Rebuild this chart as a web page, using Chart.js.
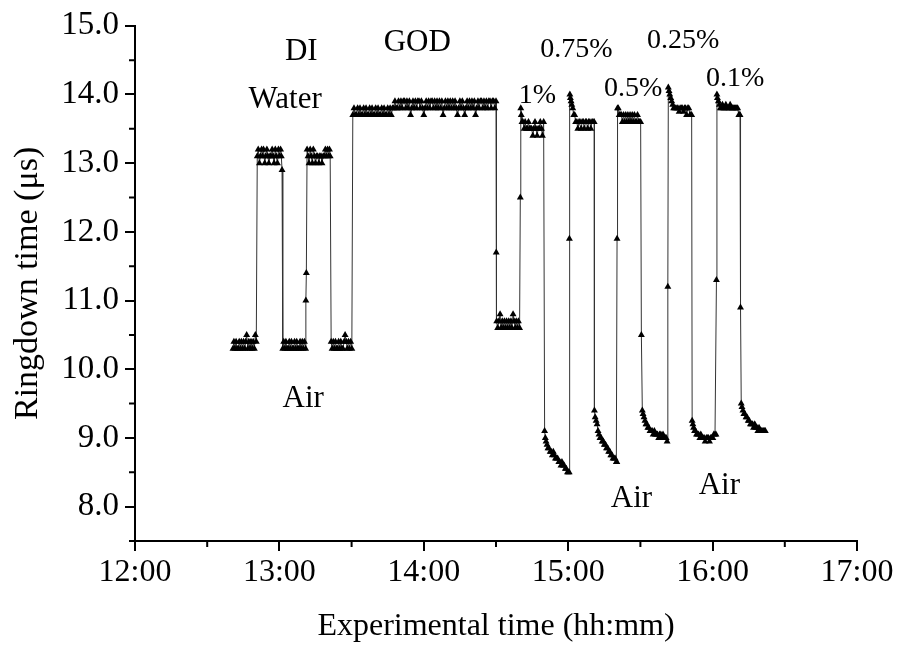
<!DOCTYPE html>
<html>
<head>
<meta charset="utf-8">
<script src="https://cdn.jsdelivr.net/npm/chart.js@4.4.1/dist/chart.umd.min.js"></script>
<style>
  html, body { margin: 0; padding: 0; background: #fff; }
  #wrap { width: 898px; height: 646px; }
</style>
</head>
<body>
<div id="wrap"><canvas id="chart" width="898" height="646"></canvas></div>
<script>
// [minutes after 12:00, ringdown time in µs]
const air1 = [[40.7,10.3],[41.1,10.4],[41.5,10.3],[42.0,10.4],[42.4,10.3],[42.9,10.3],[43.3,10.4],[43.8,10.3],[44.2,10.4],[44.7,10.3],[45.1,10.4],[45.6,10.3],
  [46.0,10.4],[46.4,10.5],[46.9,10.3],[47.3,10.4],[47.8,10.3],[48.2,10.4],[48.7,10.3],[49.1,10.4],[49.6,10.3],[50.0,10.5],[50.4,10.4]];
const water1 = [[50.8,13.1],[51.2,13.2],[51.7,13.0],[52.1,13.1],[52.6,13.2],[53.0,13.1],[53.4,13.2],[53.9,13.0],[54.3,13.1],[54.8,13.2],[55.2,13.1],[55.6,13.0],
  [56.1,13.1],[56.5,13.1],[57.0,13.2],[57.4,13.1],[57.8,13.0],[58.3,13.2],[58.7,13.1],[59.2,13.0],[59.6,13.2],[60.0,13.1],[60.5,13.2],[60.8,13.1],[61.1,12.9]];
const air2 = [[61.4,10.3],[61.8,10.4],[62.3,10.3],[62.7,10.4],[63.2,10.3],[63.6,10.3],[64.1,10.4],[64.5,10.3],[65.0,10.4],[65.4,10.3],[65.9,10.3],
  [66.3,10.4],[66.8,10.3],[67.2,10.4],[67.7,10.3],[68.1,10.3],[68.6,10.4],[69.0,10.3],[69.5,10.4],[69.9,10.3],[70.4,10.4],[70.9,10.3]];
const water2 = [[71.0,11.0],[71.2,11.4],[71.5,13.2],[71.9,13.1],[72.3,13.0],[72.8,13.2],[73.2,13.1],[73.7,13.0],[74.1,13.2],[74.6,13.1],[75.0,13.0],[75.5,13.1],
  [75.9,13.1],[76.4,13.0],[76.8,13.1],[77.3,13.1],[77.7,13.0],[78.2,13.1],[78.6,13.1],[79.1,13.2],[79.5,13.1],[80.0,13.2],[80.4,13.1],[80.8,13.2],[81.1,13.1]];
const air3 = [[81.5,10.4],[81.9,10.3],[82.4,10.4],[82.8,10.3],[83.3,10.4],[83.7,10.3],[84.2,10.3],[84.6,10.4],[85.1,10.3],[85.5,10.4],
  [86.0,10.3],[86.4,10.3],[86.9,10.4],[87.3,10.5],[87.8,10.4],[88.2,10.3],[88.7,10.4],[89.1,10.3],[89.6,10.4],[90.1,10.3]];
const god = [[90.5,13.7],[91.0,13.8],[91.5,13.7],[92.0,13.7],[92.5,13.8],[93.0,13.7],[93.5,13.8],[94.0,13.7],[94.5,13.7],[95.0,13.8],
  [95.5,13.7],[96.0,13.8],[96.5,13.7],[97.0,13.7],[97.5,13.8],[98.0,13.7],[98.5,13.8],[99.0,13.7],[99.5,13.7],[100.0,13.8],
  [100.5,13.7],[101.0,13.8],[101.5,13.7],[102.0,13.7],[102.5,13.8],[103.0,13.7],[103.5,13.8],[104.0,13.7],[104.5,13.7],[105.0,13.8],
  [105.5,13.7],[106.0,13.8],[106.5,13.7],[107.0,13.8],[107.5,13.8],[108.0,13.9],[108.5,13.8],[109.0,13.8],[109.5,13.9],[110.0,13.8],
  [110.5,13.9],[111.0,13.8],[111.5,13.9],[112.0,13.9],[112.5,13.8],[113.0,13.9],[113.5,13.8],[114.0,13.9],[114.5,13.7],[115.0,13.8],
  [115.5,13.9],[116.0,13.8],[116.5,13.9],[117.0,13.8],[117.5,13.9],[118.0,13.9],[118.5,13.8],[119.0,13.9],[119.5,13.8],[120.0,13.7],
  [120.5,13.8],[121.0,13.9],[121.5,13.8],[122.0,13.9],[122.5,13.8],[123.0,13.9],[123.5,13.9],[124.0,13.8],[124.5,13.9],[125.0,13.8],
  [125.5,13.9],[126.0,13.8],[126.5,13.9],[127.0,13.8],[127.5,13.9],[128.0,13.7],[128.5,13.8],[129.0,13.9],[129.5,13.8],[130.0,13.9],
  [130.5,13.8],[131.0,13.9],[131.5,13.8],[132.0,13.9],[132.5,13.8],[133.0,13.9],[133.5,13.8],[134.0,13.7],[134.5,13.8],[135.0,13.9],
  [135.5,13.8],[136.0,13.9],[136.5,13.8],[137.0,13.7],[137.5,13.8],[138.0,13.9],[138.5,13.8],[139.0,13.9],[139.5,13.8],[140.0,13.9],
  [140.5,13.8],[141.0,13.9],[141.5,13.7],[142.0,13.8],[142.5,13.9],[143.0,13.8],[143.5,13.9],[144.0,13.9],[144.5,13.8],[145.0,13.9],
  [145.5,13.8],[146.0,13.9],[146.5,13.8],[147.0,13.9],[147.5,13.9],[148.0,13.8],[148.5,13.9],[149.0,13.9],[149.5,13.8],[150.0,13.9]];
const buffer = [[150.1,11.7],[150.3,10.7],[150.7,10.6],[151.2,10.7],[151.7,10.8],[152.1,10.6],[152.6,10.7],[153.0,10.6],[153.5,10.7],[153.9,10.6],[154.4,10.7],
  [154.8,10.6],[155.3,10.7],[155.7,10.6],[156.2,10.7],[156.6,10.6],[157.1,10.8],[157.5,10.7],[158.0,10.6],[158.4,10.7],[158.9,10.6],[159.3,10.7],[159.8,10.6]];
const gly1 = [[160.1,12.5],[160.3,13.8],[160.5,13.7],[160.8,13.6],[161.2,13.6],[161.7,13.5],[162.1,13.6],[162.6,13.5],[163.0,13.5],[163.5,13.6],[163.9,13.5],
  [164.4,13.5],[164.8,13.5],[165.3,13.4],[165.7,13.5],[166.2,13.6],[166.6,13.5],[167.1,13.4],[167.5,13.5],[168.0,13.5],[168.4,13.6],[168.9,13.5],[169.3,13.4],[169.8,13.6]];
const air4 = [[170.2,9.1],[170.5,9.0],[170.8,8.95],[171.2,8.9],[171.6,8.85],[172.0,8.85],[172.5,8.8],[172.9,8.8],[173.4,8.75],[173.8,8.8],[174.3,8.75],[174.7,8.7],
  [175.2,8.7],[175.6,8.7],[176.1,8.65],[176.5,8.65],[177.0,8.6],[177.4,8.65],[177.9,8.6],[178.3,8.6],[178.8,8.55],[179.2,8.55],[179.7,8.5],[180.1,8.5],[180.4,8.5]];
const gly075 = [[180.5,11.9],[180.7,14.0],[180.9,13.95],[181.2,13.9],[181.5,13.85],[181.9,13.8],[182.3,13.7],[182.7,13.7],[183.1,13.6],[183.6,13.6],[184.0,13.5],
  [184.5,13.6],[184.9,13.6],[185.4,13.5],[185.8,13.6],[186.3,13.6],[186.7,13.5],[187.2,13.6],[187.6,13.6],[188.1,13.5],[188.5,13.6],[189.0,13.6],[189.4,13.5],
  [189.9,13.6],[190.3,13.6],[190.8,13.6]];
const air5 = [[190.9,9.4],[191.2,9.3],[191.6,9.25],[192.0,9.2],[192.4,9.1],[192.8,9.05],[193.2,9.0],[193.7,9.0],[194.1,8.95],[194.6,8.95],[195.0,8.9],[195.5,8.9],
  [195.9,8.85],[196.4,8.85],[196.8,8.8],[197.3,8.8],[197.7,8.75],[198.2,8.75],[198.6,8.7],[199.1,8.7],[199.5,8.7],[200.0,8.65],[200.2,8.65]];
const gly05 = [[200.3,11.9],[200.5,13.8],[200.8,13.8],[201.2,13.7],[201.6,13.7],[202.1,13.7],[202.5,13.6],[203.0,13.7],[203.4,13.6],[203.9,13.7],[204.3,13.6],
  [204.8,13.7],[205.2,13.6],[205.7,13.7],[206.1,13.6],[206.6,13.7],[207.0,13.6],[207.5,13.7],[207.9,13.6],[208.4,13.6],[208.8,13.7],[209.3,13.6],[209.7,13.6],[210.1,13.6]];
const air6 = [[210.4,10.5],[210.8,9.4],[211.1,9.35],[211.5,9.3],[211.9,9.25],[212.3,9.2],[212.7,9.2],[213.1,9.15],[213.5,9.15],[214.0,9.1],[214.4,9.1],[214.9,9.1],
  [215.3,9.05],[215.8,9.1],[216.2,9.05],[216.7,9.05],[217.1,9.05],[217.6,9.0],[218.0,9.05],[218.5,9.05],[218.9,9.0],[219.4,9.05],[219.8,9.0],[220.3,9.0],[220.7,9.0],[221.1,8.95]];
const gly025 = [[221.4,11.2],[221.6,14.1],[221.9,14.05],[222.2,14.0],[222.6,13.95],[223.0,13.9],[223.4,13.85],[223.8,13.8],[224.3,13.8],[224.7,13.8],[225.2,13.8],
  [225.6,13.8],[226.1,13.75],[226.5,13.8],[227.0,13.8],[227.4,13.8],[227.9,13.75],[228.3,13.8],[228.8,13.8],[229.2,13.7],[229.7,13.8],[230.1,13.8],[230.6,13.7],[231.0,13.7],[231.3,13.7]];
const air7 = [[231.5,9.25],[231.8,9.2],[232.1,9.15],[232.5,9.1],[232.9,9.1],[233.3,9.05],[233.8,9.05],[234.2,9.05],[234.7,9.0],[235.1,9.05],[235.6,9.0],[236.0,9.0],
  [236.5,9.0],[236.9,8.95],[237.4,9.0],[237.8,9.0],[238.3,9.0],[238.7,8.95],[239.2,9.0],[239.6,9.0],[240.1,9.0],[240.5,9.05],[241.0,9.05],[241.4,9.05]];
const gly01 = [[241.6,11.3],[241.8,14.0],[242.0,13.95],[242.4,13.9],[242.8,13.85],[243.2,13.8],[243.7,13.8],[244.1,13.85],[244.6,13.8],[245.0,13.8],[245.5,13.85],
  [245.9,13.8],[246.4,13.8],[246.8,13.8],[247.3,13.85],[247.7,13.8],[248.2,13.8],[248.6,13.8],[249.1,13.8],[249.5,13.8],[250.0,13.8],[250.4,13.8],[250.9,13.7],[251.2,13.7],[251.4,13.7]];
const air8 = [[251.6,10.9],[251.9,9.5],[252.2,9.45],[252.6,9.4],[253.0,9.35],[253.4,9.35],[253.9,9.3],[254.3,9.3],[254.8,9.25],[255.2,9.25],[255.7,9.2],[256.1,9.2],
  [256.6,9.2],[257.0,9.15],[257.5,9.2],[257.9,9.15],[258.4,9.15],[258.8,9.1],[259.3,9.15],[259.7,9.1],[260.2,9.1],[260.6,9.1],[261.1,9.1],[261.5,9.1],[261.9,9.1]];

const xTicks = [0, 60, 120, 180, 240, 300];
const xTickLabels = ["12:00", "13:00", "14:00", "15:00", "16:00", "17:00"];
const xMinor = [30, 90, 150, 210, 270];
const yTicks = [8, 9, 10, 11, 12, 13, 14, 15];
const yTickLabels = ["8.0", "9.0", "10.0", "11.0", "12.0", "13.0", "14.0", "15.0"];
const yMinor = [7.5, 8.5, 9.5, 10.5, 11.5, 12.5, 13.5, 14.5];

const noteText = ["DI", "Water", "GOD", "Air", "1%", "0.75%", "0.5%", "0.25%", "0.1%", "Air", "Air"];
const noteAt = [[69.1, 14.62], [62.4, 13.92], [117.3, 14.75], [69.9, 9.57], [167.2, 13.99], [183.4, 14.65],
  [207.0, 14.08], [227.8, 14.78], [249.4, 14.23], [206.3, 8.12], [242.8, 8.3]];

const trace = [].concat(air1, water1, air2, water2, air3, god, buffer, gly1, air4, gly075,
  air5, gly05, air6, gly025, air7, gly01, air8);

const serif = "'Liberation Serif', 'Times New Roman', serif";

const minorTicks = {
  id: "minorTicks",
  afterDraw(chart) {
    const { ctx, chartArea: a, scales: { x, y } } = chart;
    ctx.save();
    ctx.strokeStyle = "#000";
    ctx.lineWidth = 2;
    ctx.beginPath();
    xMinor.forEach(v => {
      const px = x.getPixelForValue(v);
      ctx.moveTo(px, a.bottom);
      ctx.lineTo(px, a.bottom + 6);
    });
    yMinor.forEach(v => {
      const py = y.getPixelForValue(v);
      ctx.moveTo(a.left, py);
      ctx.lineTo(a.left - 6, py);
    });
    ctx.stroke();
    ctx.restore();
  }
};

const notes = {
  id: "notes",
  afterDatasetsDraw(chart) {
    const { ctx, scales: { x, y } } = chart;
    ctx.save();
    ctx.fillStyle = "#000";
    ctx.textAlign = "center";
    ctx.textBaseline = "middle";
    noteText.forEach((t, i) => {
      const size = t.includes("%") ? 28 : 31;
      ctx.font = size + "px " + serif;
      ctx.fillText(t, x.getPixelForValue(noteAt[i][0]), y.getPixelForValue(noteAt[i][1]));
    });
    ctx.restore();
  }
};

const ctx = document.getElementById("chart").getContext("2d");

new Chart(ctx, {
  type: "scatter",
  data: {
    datasets: [{
      data: trace.map(p => ({ x: p[0], y: p[1] })),
      showLine: true,
      borderColor: "#333",
      borderWidth: 1,
      pointStyle: "triangle",
      pointRadius: 4,
      pointBackgroundColor: "#000",
      pointBorderWidth: 0
    }]
  },
  options: {
    responsive: false,
    animation: false,
    layout: { padding: { top: 23, right: 41, left: 0, bottom: 0 } },
    plugins: { legend: { display: false }, tooltip: { enabled: false } },
    scales: {
      x: {
        type: "linear",
        min: 0,
        max: 300,
        afterBuildTicks: s => { s.ticks = xTicks.map(v => ({ value: v })); },
        afterFit: s => { s.height = 105; },
        ticks: {
          callback: (v, i) => xTickLabels[i],
          color: "#000",
          font: { family: serif, size: 32 },
          padding: 2,
          maxRotation: 0,
          autoSkip: false
        },
        grid: { drawOnChartArea: false, color: "#000", lineWidth: 2, tickLength: 10 },
        border: { color: "#000", width: 2 },
        title: {
          display: true,
          text: "Experimental time (hh:mm)",
          color: "#000",
          font: { family: serif, size: 32 },
          padding: { top: 0, bottom: 0 }
        }
      },
      y: {
        min: 7.5,
        max: 15,
        afterBuildTicks: s => { s.ticks = yTicks.map(v => ({ value: v })); },
        afterFit: s => { s.width = 135; },
        ticks: {
          callback: (v, i) => yTickLabels[i],
          color: "#000",
          font: { family: serif, size: 33 },
          padding: 6,
          autoSkip: false
        },
        grid: { drawOnChartArea: false, color: "#000", lineWidth: 2, tickLength: 10 },
        border: { color: "#000", width: 2 },
        title: {
          display: true,
          text: "Ringdown time (μs)",
          color: "#000",
          font: { family: serif, size: 34 },
          padding: { top: 8, bottom: 0 }
        }
      }
    }
  },
  plugins: [minorTicks, notes]
});
</script>
</body>
</html>
